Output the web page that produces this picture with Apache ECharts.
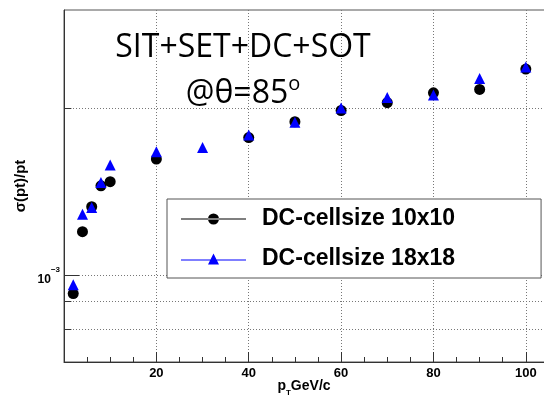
<!DOCTYPE html>
<html lang="en" style="height:100%;background-color:#ffffff">
<head>
    <meta charset="UTF-8">
    <title>sigma(pt)/pt vs pt</title>
    <script src="https://cdn.jsdelivr.net/npm/echarts@6/dist/echarts.min.js"></script>
</head>
<body style="margin:0;height:100%;">
<div id="main" style="width:544px;height:397px;"></div>
<script>
    // pt points (GeV/c) and resolution values
    var ptCell10 = [2, 4, 6, 8, 10, 20, 40, 50, 60, 70, 80, 90, 100];
    var resCell10 = [0.000929, 0.00120, 0.00133, 0.00145, 0.001475, 0.00162, 0.00177, 0.00189, 0.00198, 0.002045, 0.00213, 0.00216, 0.00235];

    var ptCell18 = [2, 4, 6, 8, 10, 20, 30, 40, 50, 60, 70, 80, 90, 100];
    var resCell18 = [0.000963, 0.00129, 0.001326, 0.00147, 0.00158, 0.00167, 0.0017, 0.00179, 0.001886, 0.002, 0.00209, 0.00211, 0.00226, 0.00237];

    var yGridValues = [0.0008, 0.0009, 0.001, 0.002];
    var xTicks = [20, 40, 60, 80, 100];

    var seriesNames = ['DC-cellsize 10x10', 'DC-cellsize 18x18'];

    function pairs(xs, ys) {
        return xs.map(function (x, i) { return [x, ys[i]]; });
    }

    // horizontal dotted grid + little ticks on the log axis
    var yMarks = [];
    yGridValues.forEach(function (v) {
        yMarks.push([{coord: [0, v]}, {coord: [110, v]}]);
    });
    yGridValues.forEach(function (v) {
        var first = {coord: [0, v], lineStyle: {type: 'solid', color: '#333'}};
        if (v === 0.001) {
            first.label = {
                show: true, position: 'start', distance: 4,
                formatter: '{a|10}{b|\u22123}',
                rich: {
                    a: {fontSize: 12, fontWeight: 'bold', fontFamily: 'Liberation Sans', color: '#000', lineHeight: 20, verticalAlign: 'bottom'},
                    b: {fontSize: 8, fontWeight: 'bold', fontFamily: 'Liberation Sans', color: '#000', lineHeight: 10, verticalAlign: 'top'}
                }
            };
        }
        yMarks.push([first, {coord: [v === 0.001 ? 3.25 : 1.6, v]}]);
    });

    var chart = echarts.init(document.getElementById('main'));

    var option = {
        animation: false,
        backgroundColor: '#ffffff',
        grid: {
            left: 64, top: 10, width: 508, height: 352,
            outerBoundsMode: 'none',
            containLabel: false,
            show: true, borderColor: '#555', borderWidth: 1
        },
        graphic: [
            {
                type: 'text', z: 5,
                style: {
                    text: 'SIT+SET+DC+SOT', x: 243, y: 48,
                    textAlign: 'center', textVerticalAlign: 'middle',
                    font: '32px "Open Sans"', fill: '#000'
                }
            },
            {
                type: 'text', z: 5,
                style: {
                    text: '{a|@\u03b8=85}{s|o}', x: 243, y: 92,
                    textAlign: 'center', textVerticalAlign: 'middle',
                    rich: {
                        a: {font: '32px "Open Sans"', fill: '#000', lineHeight: 36, verticalAlign: 'bottom'},
                        s: {font: '20px "Open Sans"', fill: '#000', lineHeight: 22, verticalAlign: 'top'}
                    }
                }
            }
        ],
        legend: {
            orient: 'vertical',
            left: 167, top: 199,
            padding: [7, 86, 6, 14],
            itemGap: 14,
            itemWidth: 65,
            itemHeight: 11,
            backgroundColor: '#ffffff',
            borderColor: '#555',
            borderWidth: 1,
            z: 10,
            selectedMode: false,
            textStyle: {
                fontFamily: 'Liberation Sans', fontWeight: 'bold', fontSize: 23,
                color: '#000', lineHeight: 26, padding: [0, 0, 0, 11]
            },
            data: [
                {name: seriesNames[0], icon: 'path://M0,5h65v1H0z M27,5.5a5.5,5.5 0 1 0 11,0a5.5,5.5 0 1 0 -11,0z'},
                {name: seriesNames[1], icon: 'path://M0,6h65v1H0z M32.5,0L38,11H27z'}
            ]
        },
        xAxis: {
            type: 'value',
            min: 0, max: 110, interval: 20,
            name: '{p|p}{t|T}{g|GeV/c}',
            nameLocation: 'middle',
            nameGap: 17,
            nameMoveOverlap: false,
            nameTextStyle: {
                padding: [0, 28, 0, 0],
                rich: {
                    p: {fontSize: 14, fontWeight: 'bold', fontFamily: 'Liberation Sans', color: '#000', lineHeight: 18, verticalAlign: 'top'},
                    t: {fontSize: 8, fontWeight: 'bold', fontFamily: 'Liberation Sans', color: '#000', lineHeight: 10, verticalAlign: 'bottom'},
                    g: {fontSize: 14, fontWeight: 'bold', fontFamily: 'Liberation Sans', color: '#000', lineHeight: 18, verticalAlign: 'top'}
                }
            },
            axisLine: {lineStyle: {color: '#333', width: 1}},
            axisTick: {inside: true, length: 10, lineStyle: {color: '#333'}},
            minorTick: {show: true, splitNumber: 4, length: 5, lineStyle: {color: '#333'}},
            axisLabel: {
                margin: 5,
                fontFamily: 'Liberation Sans', fontWeight: 'bold', fontSize: 13, color: '#000',
                formatter: function (v) { return xTicks.indexOf(v) >= 0 ? String(v) : ''; }
            },
            splitLine: {show: true, lineStyle: {color: '#777', type: [1, 2], width: 1}}
        },
        yAxis: {
            type: 'log',
            logBase: 10,
            min: 0.0007, max: 0.003,
            name: '\u03c3(pt)/pt',
            nameLocation: 'middle',
            nameGap: 36,
            nameMoveOverlap: false,
            nameTextStyle: {fontFamily: 'Liberation Sans', fontWeight: 'bold', fontSize: 15, color: '#000'},
            axisLine: {show: true, lineStyle: {color: '#333', width: 1}},
            axisTick: {show: false},
            axisLabel: {show: false},
            splitLine: {show: false}
        },
        series: [
            {
                name: seriesNames[0],
                type: 'scatter',
                symbol: 'circle',
                symbolSize: 11,
                itemStyle: {color: '#000000', opacity: 1},
                data: pairs(ptCell10, resCell10),
                z: 3,
                markLine: {
                    silent: true,
                    symbol: ['none', 'none'],
                    animation: false,
                    z: 1,
                    label: {show: false},
                    lineStyle: {color: '#777', type: [1, 2], width: 1},
                    data: yMarks
                }
            },
            {
                name: seriesNames[1],
                type: 'scatter',
                symbol: 'triangle',
                symbolSize: 11,
                itemStyle: {color: '#0000ff', opacity: 1},
                data: pairs(ptCell18, resCell18),
                z: 4
            }
        ]
    };

    chart.setOption(option);
    window.onresize = function () {
        chart.resize();
    };
</script>
</body>
</html>
